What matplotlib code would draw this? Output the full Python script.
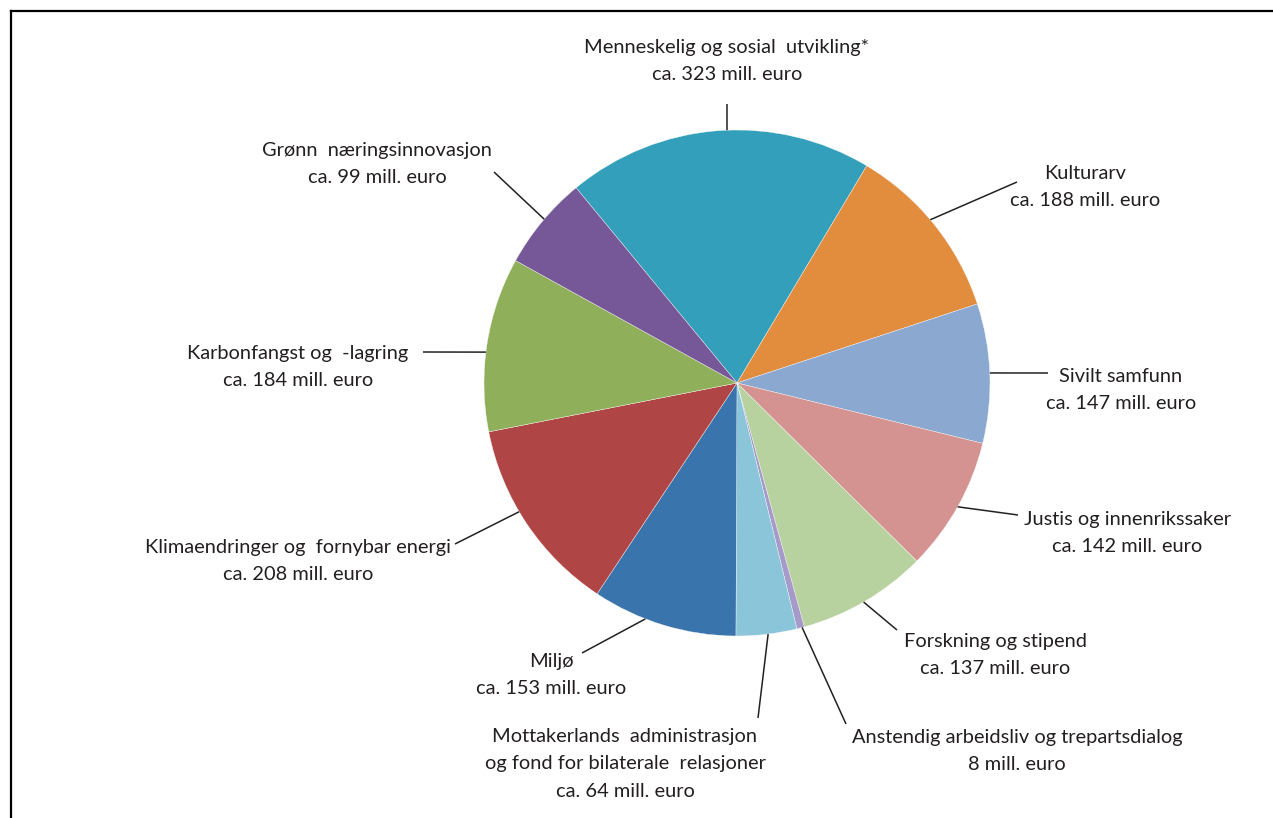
import matplotlib
matplotlib.use("Agg")
import matplotlib.pyplot as plt
import numpy as np

# EEA/Norway grants allocation by programme area (mill. euro)
names = [
    "Menneskelig og sosial  utvikling*",
    "Kulturarv",
    "Sivilt samfunn",
    "Justis og innenrikssaker",
    "Forskning og stipend",
    "Anstendig arbeidsliv og trepartsdialog",
    "Mottakerlands  administrasjon\nog fond for bilaterale  relasjoner",
    "Miljø",
    "Klimaendringer og  fornybar energi",
    "Karbonfangst og  -lagring",
    "Grønn  næringsinnovasjon",
]
values = [323, 188, 147, 142, 137, 8, 64, 153, 208, 184, 99]
prefixes = ["ca. ", "ca. ", "ca. ", "ca. ", "ca. ", "", "ca. ", "ca. ", "ca. ", "ca. ", "ca. "]
colors = ["#339FBA", "#E28C3E", "#8AA8D0", "#D49391", "#B7D19F", "#A59AC8",
          "#8BC5D9", "#3A74AD", "#B04545", "#8FAF5A", "#765797"]

W, H = 1273, 818
CX, CY, R = 737, 383, 253  # pie centre and radius in pixels

def px(x, y):
    """pixel position -> data coordinates (pie radius = 1)"""
    return (x - CX) / R, (CY - y) / R

# label text centre, leader-line start on the rim and leader-line end (pixels)
label_xy = [(727, 61), (1085, 187), (1121, 390), (1127, 533), (995, 655),
            (1017, 751), (625, 764), (551, 675), (298, 561), (298, 367), (377, 164)]
line_start = [(727, 130), (930, 220), (989, 373), (958, 507), (863, 601),
              (802, 627), (768, 633), (645, 620), (517, 513), (485, 352), (544, 219)]
line_end = [(727, 104), (1017, 182), (1048, 373), (1018, 515), (897, 630),
            (846, 724), (758, 718), (582, 653), (455, 544), (423, 352), (494, 172)]

plt.rcParams["font.family"] = ["Lato", "DejaVu Sans"]

fig = plt.figure(figsize=(W / 100, H / 100), dpi=100)
ax = fig.add_axes([0, 0, 1, 1])

wedges, _ = ax.pie(values, colors=colors, startangle=129.5, counterclock=False,
                   radius=1, center=(0, 0), frame=True,
                   wedgeprops=dict(linewidth=0.25, edgecolor="white"))
ax.set_xlim(px(0, 0)[0], px(W, 0)[0])
ax.set_ylim(px(0, H)[1], px(0, 0)[1])
ax.set_aspect("equal")
ax.axis("off")

text_color = "#231F20"
for name, v, pre, (lx, ly), (sx, sy), (ex, ey) in zip(names, values, prefixes,
                                                      label_xy, line_start, line_end):
    # snap the start of the leader line onto the pie rim
    a = np.arctan2(*px(sx, sy)[::-1])
    x0, y0 = np.cos(a), np.sin(a)
    x1, y1 = px(ex, ey)
    ax.plot([x0, x1], [y0, y1], color="#222222", lw=1.1, solid_capstyle="butt")
    tx, ty = px(lx, ly)
    ax.text(tx, ty, f"{name}\n{pre}{v} mill. euro", ha="center", va="center",
            fontsize=14.4, color=text_color, linespacing=1.74)

# frame lines along the top and left edge
fig.add_artist(plt.Line2D([11 / W, 1], [1 - 11 / H, 1 - 11 / H],
                          transform=fig.transFigure, color="black", lw=1.6))
fig.add_artist(plt.Line2D([11 / W, 11 / W], [0, 1 - 11 / H],
                          transform=fig.transFigure, color="black", lw=1.6))

fig.savefig("out.png", dpi=100, facecolor="white")
